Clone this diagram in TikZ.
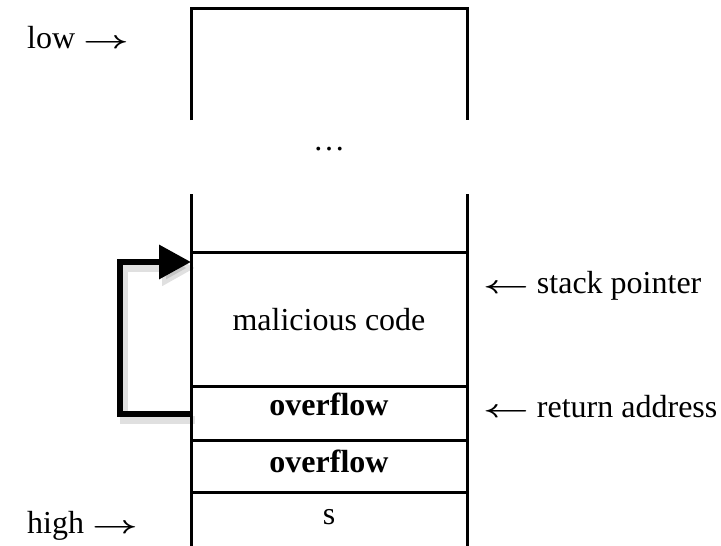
\documentclass[tikz,border=0pt]{standalone}
\usepackage{fontspec}
\setmainfont{Liberation Serif}
\usetikzlibrary{arrows.meta, positioning, calc}

\newcommand{\rarr}{\scalebox{1.6}[1]{\boldmath$\rightarrow$}}
\newcommand{\larr}{\scalebox{1.6}[1]{\boldmath$\leftarrow$}}

\begin{document}
\begin{tikzpicture}[
  x=1pt, y=-1pt,
  wall/.style = {line width=3pt},
  label/.style = {font=\fontsize{32}{38}\selectfont, inner sep=0pt},
  jump/.style = {line width=6.5pt, -{Triangle[length=32pt, width=33pt]}},
  shade/.style = {line width=8pt, draw=black, opacity=0.12, -{Triangle[length=33pt, width=34pt]}}
]
\useasboundingbox (0,0) rectangle (721,546);

% Top of the stack
\draw[wall] (191,120) -- (191,8) -- (467,8) -- (467,120);

% Lower part of the stack
\draw[wall] (191,194) -- (191,546);
\draw[wall] (467,194) -- (467,546);
\foreach \y in {252,386,440,492}
  \draw[wall] (191,\y) -- (467,\y);

% Cell texts
\node[label, anchor=base] (dots) at (329,150) {…};
\node[label, anchor=base] (mal) at (329,330) {malicious code};
\node[label, anchor=base] (ovf1) at (329,415) {\textbf{overflow}};
\node[label, anchor=base] (ovf2) at (329,472) {\textbf{overflow}};
\node[label, anchor=base] (s) at (329,524) {s};

% Side labels
\node[label, anchor=base west] (low) at (27,48) {low \rarr};
\node[label, anchor=base west] (high) at (27,533) {high \rarr};
\node[label, anchor=base west] (splabel) at (483,293) {\larr\ stack pointer};
\node[label, anchor=base west] (ralabel) at (483,417) {\larr\ return address};

% Jump from return address to the code
\coordinate (ret) at (191,414);
\coordinate (sptr) at (191,262);
\draw[shade] ($(ret)+(4,6)$) -- ++(-71,0) |- ($(sptr)+(4,6)$);
\draw[jump] (ret) -- ++(-71,0) |- (sptr);

\end{tikzpicture}
\end{document}
